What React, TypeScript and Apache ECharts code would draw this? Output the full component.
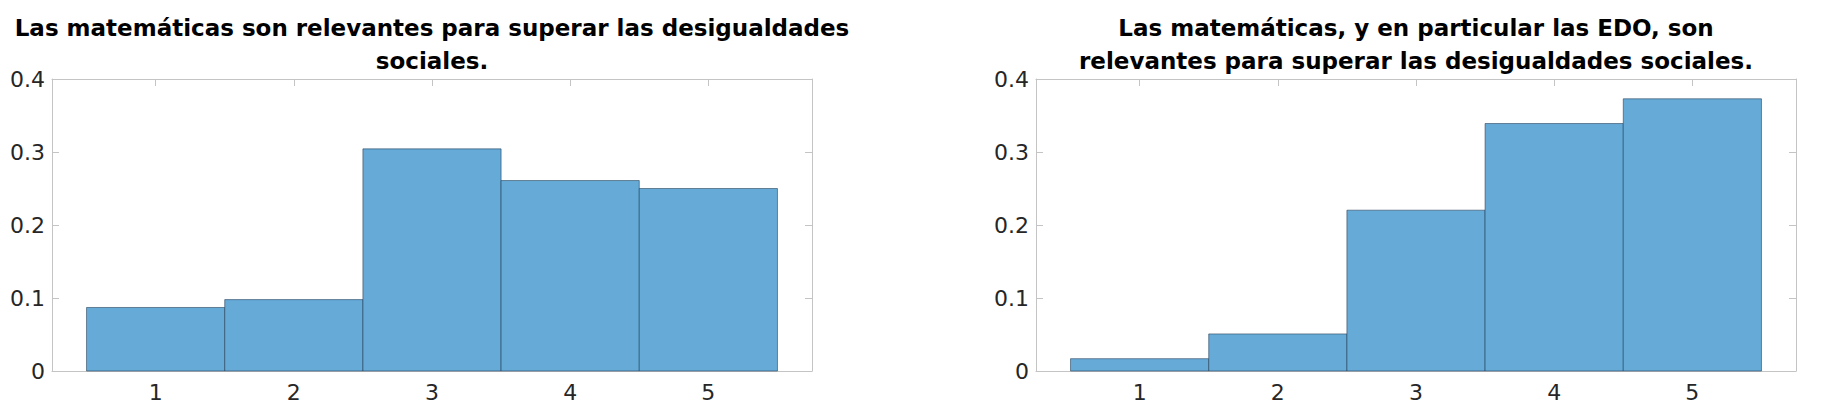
import React, { useEffect, useRef } from "react";
import * as echarts from "echarts";

const categories = [1, 2, 3, 4, 5];
const leftValues = [0.087, 0.0978, 0.3043, 0.2609, 0.25];
const rightValues = [0.0169, 0.0508, 0.2203, 0.339, 0.3729];
const yTicks = [0, 0.1, 0.2, 0.3, 0.4];
const leftTitle = "Las matemáticas son relevantes para superar las desigualdades\nsociales.";
const rightTitle = "Las matemáticas, y en particular las EDO, son\nrelevantes para superar las desigualdades sociales.";

const FONT = "'DejaVu Sans', 'Liberation Sans', Arial, sans-serif";
const AXIS_COLOR = "#c4c4c4";
const LABEL_COLOR = "#262626";
const BAR_FILL = "#66aad7";
const BAR_EDGE = "rgba(30,55,80,0.55)";

export default function App() {
  const ref = useRef<HTMLDivElement>(null);
  useEffect(() => {
    document.body.style.margin = "0";
    if (!ref.current) return;
    const chart = echarts.init(ref.current, null, { renderer: "svg" });

    const grids = [
      { left: 52, top: 79, width: 760, height: 292 },
      { left: 1036, top: 79, width: 760, height: 292 },
    ];

    const xAxes: any[] = [];
    const yAxes: any[] = [];
    grids.forEach((_, gi) => {
      const base = {
        type: "value",
        gridIndex: gi,
        min: 0.25,
        max: 5.75,
        splitLine: { show: false },
        axisLine: { show: true, onZero: false, lineStyle: { color: AXIS_COLOR, width: 1 } },
        axisTick: { show: true, inside: true, length: 7, lineStyle: { color: AXIS_COLOR }, customValues: categories },
      };
      xAxes.push({
        ...base,
        position: "bottom",
        axisLabel: { show: true, customValues: categories, fontSize: 22, color: LABEL_COLOR, fontFamily: FONT, margin: 10 },
      });
      xAxes.push({ ...base, position: "top", axisLabel: { show: false } });
      const ybase = {
        type: "value",
        gridIndex: gi,
        min: yTicks[0],
        max: yTicks[yTicks.length - 1],
        interval: 0.1,
        splitLine: { show: false },
        axisLine: { show: true, onZero: false, lineStyle: { color: AXIS_COLOR, width: 1 } },
        axisTick: { show: true, inside: true, length: 7, lineStyle: { color: AXIS_COLOR } },
      };
      yAxes.push({
        ...ybase,
        position: "left",
        axisLabel: {
          show: true,
          fontSize: 22,
          color: LABEL_COLOR,
          fontFamily: FONT,
          margin: 7,
          formatter: (v: number) => String(Math.round(v * 10) / 10),
        },
      });
      yAxes.push({ ...ybase, position: "right", axisLabel: { show: false } });
    });

    const makeSeries = (values: number[], gi: number) => ({
      type: "custom",
      xAxisIndex: gi * 2,
      yAxisIndex: gi * 2,
      data: categories.map((c, i) => [c, values[i]]),
      encode: { x: 0, y: 1 },
      z: 1,
      renderItem: (params: any, api: any) => {
        const x = api.value(0);
        const y = api.value(1);
        const p0 = api.coord([x - 0.5, y]);
        const p1 = api.coord([x + 0.5, 0]);
        return {
          type: "rect",
          shape: { x: p0[0], y: p0[1], width: p1[0] - p0[0], height: p1[1] - p0[1] },
          style: { fill: BAR_FILL, stroke: BAR_EDGE, lineWidth: 1 },
        };
      },
    });

    const titleStyle = {
      fontSize: 23,
      fontWeight: "bold",
      fontFamily: FONT,
      color: "#000000",
      lineHeight: 33.5,
    };

    chart.setOption({
      animation: false,
      backgroundColor: "#ffffff",
      title: [
        { text: leftTitle, left: 432, top: 11, textAlign: "center", padding: 0, textStyle: titleStyle },
        { text: rightTitle, left: 1416, top: 11, textAlign: "center", padding: 0, textStyle: titleStyle },
      ],
      grid: grids,
      xAxis: xAxes,
      yAxis: yAxes,
      series: [makeSeries(leftValues, 0), makeSeries(rightValues, 1)],
    });
    return () => chart.dispose();
  }, []);
  return <div ref={ref} style={{ width: 1826, height: 418 }} />;
}
